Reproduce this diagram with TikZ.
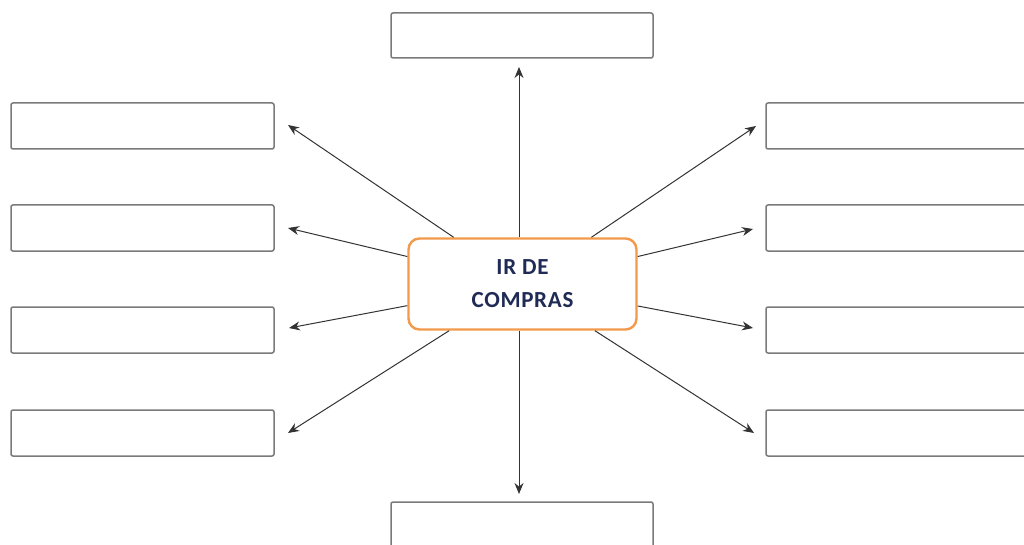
\documentclass[tikz,border=0pt]{standalone}
\usepackage{fontspec}
\setmainfont{Carlito}
\usetikzlibrary{arrows.meta}
\definecolor{boxgray}{HTML}{7A7A7A}
\definecolor{orng}{HTML}{F2994A}
\definecolor{navy}{HTML}{1F2A55}
\definecolor{arr}{HTML}{333333}
\tikzset{
  blank/.style={draw=boxgray, line width=1.5pt, rounded corners=2pt, fill=white},
  center/.style={draw=orng, line width=2.4pt, rounded corners=11pt, fill=white,
     minimum width=228pt, minimum height=91pt, align=center, text=navy,
     font=\fontsize{23}{33}\selectfont\bfseries\addfontfeature{LetterSpace=3}},
  conn/.style={draw=arr, line width=1pt, -{Stealth[length=11pt,width=9pt]}}
}
\begin{document}
\begin{tikzpicture}[x=1pt,y=-1pt]
\useasboundingbox[fill=white] (0,0) rectangle (1024,545);
\begin{scope}
\clip (0,0) rectangle (1024,545);
% blank boxes
\draw[blank] (391,13) rectangle (653,58) node[midway, inner sep=0] (bt) {};
\draw[blank] (391,502) rectangle (653,560) node[midway, inner sep=0] (bb) {};
\draw[blank] (11,103) rectangle (274,149) node[midway, inner sep=0] (l1) {};
\draw[blank] (11,205) rectangle (274,251) node[midway, inner sep=0] (l2) {};
\draw[blank] (11,307) rectangle (274,353) node[midway, inner sep=0] (l3) {};
\draw[blank] (11,410) rectangle (274,456) node[midway, inner sep=0] (l4) {};
\draw[blank] (766,103) rectangle (1040,149) node[midway, inner sep=0] (r1) {};
\draw[blank] (766,205) rectangle (1040,251) node[midway, inner sep=0] (r2) {};
\draw[blank] (766,307) rectangle (1040,353) node[midway, inner sep=0] (r3) {};
\draw[blank] (766,410) rectangle (1040,456) node[midway, inner sep=0] (r4) {};
\end{scope}
% center
\node[center] (c) at (522.5,284) {IR DE\\COMPRAS};
% arrow tips
\coordinate (tu) at (519,67);
\coordinate (td) at (519,494);
\coordinate (tl1) at (288,125);
\coordinate (tl2) at (288,228);
\coordinate (tl3) at (289,328);
\coordinate (tl4) at (288,433);
\coordinate (tr1) at (756,126);
\coordinate (tr2) at (753,229);
\coordinate (tr3) at (753,328);
\coordinate (tr4) at (754,433);
\draw[conn] (tu |- c.north) -- (tu);
\draw[conn] (td |- c.south) -- (td);
\draw[conn] (c) -- (tl1);
\draw[conn] (c) -- (tl2);
\draw[conn] (c) -- (tl3);
\draw[conn] (c) -- (tl4);
\draw[conn] (c) -- (tr1);
\draw[conn] (c) -- (tr2);
\draw[conn] (c) -- (tr3);
\draw[conn] (c) -- (tr4);
\end{tikzpicture}
\end{document}
